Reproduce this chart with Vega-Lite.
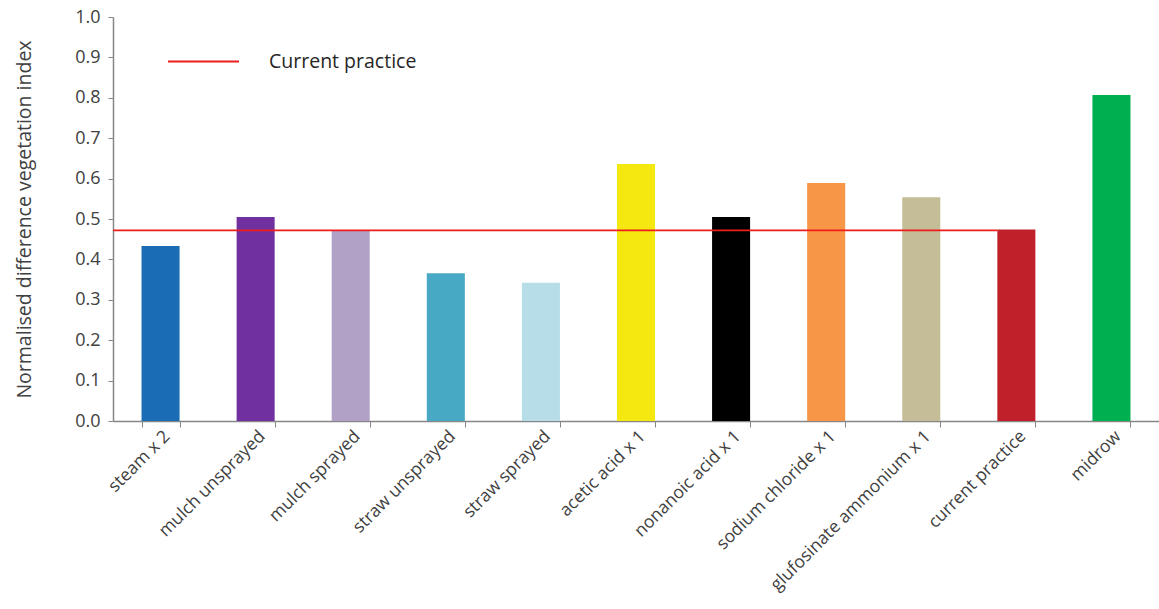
{
  "$schema": "https://vega.github.io/schema/vega-lite/v6.json",
  "autosize": "none",
  "width": 1046,
  "height": 404,
  "padding": {"left": 113, "top": 17, "right": 0, "bottom": 188},
  "background": "white",
  "config": {
    "view": {"stroke": null},
    "font": "Open Sans",
    "axis": {"grid": false, "domainColor": "#868686", "tickColor": "#868686", "labelColor": "#404040", "titleColor": "#404040", "labelFont": "Open Sans", "titleFont": "Open Sans"}
  },
  "datasets": {
    "bars": [
      {"treatment": "steam x 2", "ndvi": 0.433},
      {"treatment": "mulch unsprayed", "ndvi": 0.505},
      {"treatment": "mulch sprayed", "ndvi": 0.472},
      {"treatment": "straw unsprayed", "ndvi": 0.366},
      {"treatment": "straw sprayed", "ndvi": 0.342},
      {"treatment": "acetic acid x 1", "ndvi": 0.636},
      {"treatment": "nonanoic acid x 1", "ndvi": 0.505},
      {"treatment": "sodium chloride x 1", "ndvi": 0.589},
      {"treatment": "glufosinate ammonium x 1", "ndvi": 0.554},
      {"treatment": "current practice", "ndvi": 0.474},
      {"treatment": "midrow", "ndvi": 0.807}
    ],
    "ref": [
      {"from": "steam x 2", "to": "current practice", "ndvi": 0.472, "series": "Current practice"}
    ]
  },
  "layer": [
    {
      "data": {"name": "bars"},
      "mark": {"type": "bar"},
      "encoding": {
        "x": {
          "field": "treatment", "type": "nominal", "sort": null,
          "scale": {
            "domain": ["steam x 2", "mulch unsprayed", "mulch sprayed", "straw unsprayed", "straw sprayed", "acetic acid x 1", "nonanoic acid x 1", "sodium chloride x 1", "glufosinate ammonium x 1", "current practice", "midrow"],
            "paddingInner": 0.6, "paddingOuter": 0.3
          },
          "axis": {"title": null, "labelAngle": -45, "labelFontSize": 17.5, "labelLimit": 0, "tickBand": "extent", "tickSize": 6, "labelPadding": 0, "domainWidth": 1.5, "labelOverlap": false}
        },
        "y": {
          "field": "ndvi", "type": "quantitative",
          "scale": {"domain": [0, 1], "nice": false},
          "axis": {"title": "Normalised difference vegetation index", "titleFontSize": 19.5, "titleFontWeight": "normal", "labelFontSize": 18, "format": ".1f", "values": [0,0.1,0.2,0.3,0.4,0.5,0.6,0.7,0.8,0.9,1.0], "labelOverlap": false, "tickSize": 5, "labelPadding": 8, "titlePadding": 40, "domainWidth": 1.5}
        },
        "color": {
          "field": "treatment", "type": "nominal", "legend": null,
          "scale": {
            "domain": ["steam x 2", "mulch unsprayed", "mulch sprayed", "straw unsprayed", "straw sprayed", "acetic acid x 1", "nonanoic acid x 1", "sodium chloride x 1", "glufosinate ammonium x 1", "current practice", "midrow"],
            "range": ["#1a6db5", "#7030a0", "#b2a1c7", "#48a9c5", "#b7dde8", "#f5e810", "#000000", "#f79646", "#c4bd97", "#c0202a", "#00b050"]
          }
        }
      }
    },
    {
      "data": {"name": "ref"},
      "mark": {"type": "rule", "strokeWidth": 1.8},
      "encoding": {
        "x": {"field": "from", "type": "nominal", "bandPosition": -0.75},
        "x2": {"field": "to", "bandPosition": 0},
        "y": {"field": "ndvi", "type": "quantitative"},
        "stroke": {
          "field": "series", "type": "nominal",
          "scale": {"range": ["#ee1c1c"]},
          "legend": {"title": null, "orient": "none", "legendX": 54, "legendY": 8, "symbolType": "stroke", "symbolSize": 5041, "symbolStrokeWidth": 2, "labelFontSize": 19.5, "labelColor": "#262626", "labelOffset": 29, "labelFont": "Open Sans"}
        }
      }
    }
  ]
}
